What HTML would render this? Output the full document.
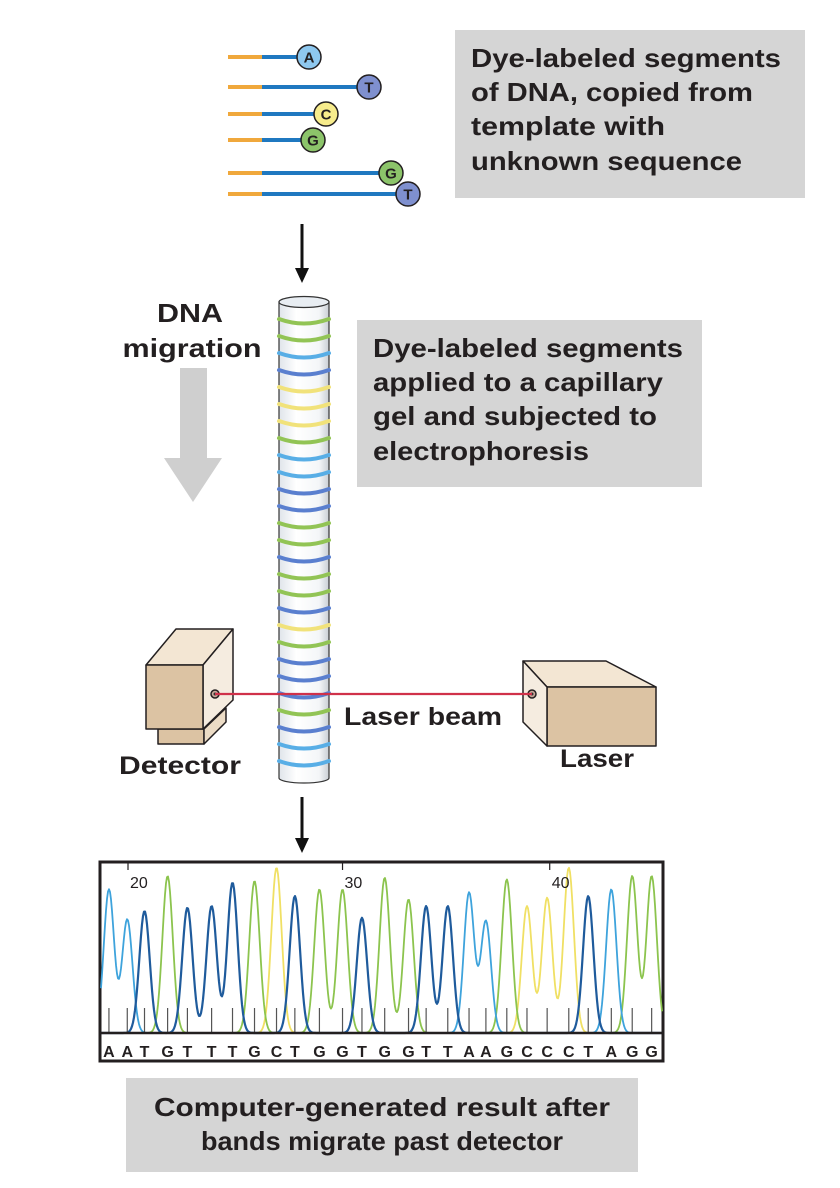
<!DOCTYPE html>
<html><head><meta charset="utf-8"><style>
html,body{margin:0;padding:0;background:#fff;}
svg{display:block;}
text{font-family:"Liberation Sans",sans-serif;font-weight:bold;fill:#231f20;}
</style></head><body>
<svg id="fig" width="840" height="1188" viewBox="0 0 840 1188">
<rect x="455" y="30" width="350" height="168" fill="#d5d5d5"/>
<g font-size="26">
<text x="471" y="67" textLength="310" lengthAdjust="spacingAndGlyphs">Dye-labeled segments</text>
<text x="471" y="101" textLength="282" lengthAdjust="spacingAndGlyphs">of DNA, copied from</text>
<text x="471" y="135" textLength="194" lengthAdjust="spacingAndGlyphs">template with</text>
<text x="471" y="170" textLength="271" lengthAdjust="spacingAndGlyphs">unknown sequence</text>
</g>
<rect x="357" y="320" width="345" height="167" fill="#d5d5d5"/>
<g font-size="26">
<text x="373" y="357" textLength="310" lengthAdjust="spacingAndGlyphs">Dye-labeled segments</text>
<text x="373" y="391" textLength="290" lengthAdjust="spacingAndGlyphs">applied to a capillary</text>
<text x="373" y="425" textLength="284" lengthAdjust="spacingAndGlyphs">gel and subjected to</text>
<text x="373" y="460" textLength="216" lengthAdjust="spacingAndGlyphs">electrophoresis</text>
</g>
<rect x="126" y="1078" width="512" height="94" fill="#d5d5d5"/>
<g font-size="26" text-anchor="middle">
<text x="382" y="1116" textLength="456" lengthAdjust="spacingAndGlyphs">Computer-generated result after</text>
<text x="382" y="1150" textLength="362" lengthAdjust="spacingAndGlyphs">bands migrate past detector</text>
</g>
<g font-size="26" text-anchor="middle">
<text x="190" y="322" textLength="66" lengthAdjust="spacingAndGlyphs">DNA</text>
<text x="192" y="357" textLength="139" lengthAdjust="spacingAndGlyphs">migration</text>
</g>
<polygon fill="#cfcfcf" points="180,368 207,368 207,458 222,458 193,502 164,458 180,458"/>
<g><line x1="302" y1="224" x2="302" y2="272" stroke="#111" stroke-width="3"/><polygon points="295,268 309,268 302,283" fill="#111"/></g>
<g><line x1="302" y1="797" x2="302" y2="842" stroke="#111" stroke-width="3"/><polygon points="295,838 309,838 302,853" fill="#111"/></g>
<g id="strands"></g>
<g stroke="#231f20" stroke-width="1.5" stroke-linejoin="round">
<polygon points="158,729 204,729 204,744 158,744" fill="#dcc3a3"/>
<polygon points="204,729 226,708 226,722 204,744" fill="#ecdcc6"/>
<polygon points="146,665 176,629 233,629 203,665" fill="#f3e6d3"/>
<polygon points="203,665 233,629 233,700 203,729" fill="#f5ece0"/>
<polygon points="146,665 203,665 203,729 146,729" fill="#dcc3a3"/>
<circle cx="215" cy="694" r="4" fill="#c9a99a"/><circle cx="215" cy="694" r="1.5" fill="#333" stroke="none"/>
</g>
<g stroke="#231f20" stroke-width="1.5" stroke-linejoin="round">
<polygon points="523,661 606,661 656,687 547,687" fill="#f3e6d3"/>
<polygon points="547,687 656,687 656,746 547,746" fill="#dcc3a3"/>
<polygon points="523,661 547,687 547,746 523,722" fill="#f5ece0"/>
<circle cx="532" cy="694" r="4" fill="#c9a99a"/><circle cx="532" cy="694" r="1.5" fill="#333" stroke="none"/>
</g>
<g id="cap">
<defs><linearGradient id="cg" x1="0" x2="1"><stop offset="0" stop-color="#dfe4ea"/><stop offset="0.35" stop-color="#ffffff"/><stop offset="0.8" stop-color="#f4f6f8"/><stop offset="1" stop-color="#c9ced4"/></linearGradient></defs>
<path d="M279,302 L279,778 A25,5 0 0 0 329,778 L329,302 Z" fill="url(#cg)" stroke="#333" stroke-width="1.2"/>
</g>
<g id="bands"></g>
<ellipse cx="304" cy="302" rx="25" ry="5.5" fill="#e8edf2" stroke="#333" stroke-width="1.2"/>
<line x1="215" y1="694" x2="532" y2="694" stroke="#d0314a" stroke-width="2.2"/>
<text x="423" y="725" font-size="25" text-anchor="middle" textLength="158" lengthAdjust="spacingAndGlyphs">Laser beam</text>
<text x="180" y="774" font-size="25" text-anchor="middle" textLength="122" lengthAdjust="spacingAndGlyphs">Detector</text>
<text x="597" y="767" font-size="25" text-anchor="middle" textLength="74" lengthAdjust="spacingAndGlyphs">Laser</text>
<rect x="100" y="862" width="563" height="199" fill="#fff" stroke="#231f20" stroke-width="3"/>
<g id="chrom"></g>
</svg>
<script>
const NS='http://www.w3.org/2000/svg';
function mk(tag,attrs,parent){const e=document.createElementNS(NS,tag);for(const k in attrs)e.setAttribute(k,attrs[k]);parent.appendChild(e);return e;}
const colors={A:'#3ea3dc',T:'#1f5b9c',G:'#8cc44e',C:'#f0e064'};
const circleFill={A:'#8ec8ef',T:'#7f90cf',G:'#8cc46a',C:'#f7ec8c'};

const segBases=['A','T','C','G','G','T'];
const segLengths=[47,107,64,51,129,146];
const segRowY=[57,87,114,140,173,194];
const strands=document.getElementById('strands');
for(let i=0;i<segBases.length;i++){
  const y=segRowY[i], x0=262, x1=x0+segLengths[i];
  const o=mk('line',{x1:228,y1:y,x2:262,y2:y,stroke:'#f0a83c','stroke-width':4},strands);
  
  
  const b=mk('line',{x1:262,y1:y,x2:x1,y2:y,stroke:'#1f78c0','stroke-width':4},strands);
  
  
  const c=mk('circle',{cx:x1,cy:y,r:12,fill:circleFill[segBases[i]],stroke:'#231f20','stroke-width':1.5},strands);
  
  
  const t=mk('text',{x:x1,y:y+5.5,'font-size':15,'text-anchor':'middle'},strands);
  t.textContent=segBases[i];
  
  
}

const bandBases=['G','G','A','T','C','C','C','G','A','A','T','T','G','G','T','G','G','T','C','G','T','T','T','G','T','A','A'];
const bandColors={A:'#58aee6',T:'#5a7fcf',G:'#92c455',C:'#f1e27a'};
const bands=document.getElementById('bands');
for(let i=0;i<bandBases.length;i++){
  const y=322+i*17;
  const p=mk('path',{d:`M279,${y-3} Q304,${y+6} 329,${y-3}`,fill:'none',stroke:bandColors[bandBases[i]],'stroke-width':4,'stroke-linecap':'round'},bands);
  
  
}

const sequence=['A','A','T','G','T','T','T','G','C','T','G','G','T','G','G','T','T','A','A','G','C','C','C','T','A','G','G'];
const peakScan=[38,88,135,198,252,318,375,435,495,545,612,675,728,790,855,903,962,1020,1066,1123,1178,1233,1292,1345,1408,1465,1518];
const peakHeight=[0.86,0.68,0.73,0.94,0.75,0.76,0.90,0.91,0.99,0.82,0.86,0.86,0.69,0.93,0.80,0.76,0.76,0.84,0.67,0.92,0.76,0.81,0.99,0.82,0.86,0.94,0.94];
const tickLabels=['20','30','40'];
const tickScan=[90,675,1240];
const baseline=1033, plotTop=866;
const xs=s=>95+s/2.727;
const ys=v=>baseline-v*(baseline-plotTop);
const chrom=document.getElementById('chrom');
['C','G','A','T'].forEach(b=>{
  let d='';
  for(let px=101;px<=662;px+=1){
    let v=0;
    for(let i=0;i<sequence.length;i++){
      if(sequence[i]!==b)continue;
      const dx=(px-xs(peakScan[i]))/5.2;
      v+=peakHeight[i]*Math.exp(-dx*dx/2);
    }
    v=Math.min(v,1.02);
    d+=(d?'L':'M')+px+','+ys(v).toFixed(1);
  }
  const p=mk('path',{d:d,fill:'none',stroke:colors[b],'stroke-width':b==='T'?2.2:1.8,'stroke-linejoin':'round'},chrom);
  
  
});
for(let i=0;i<sequence.length;i++){
  const x=xs(peakScan[i]);
  const tk=mk('line',{x1:x,y1:1008,x2:x,y2:baseline,stroke:'#555','stroke-width':1.2},chrom);
  
  
  const t=mk('text',{x:x,y:1057,'font-size':16,'text-anchor':'middle'},chrom);
  t.textContent=sequence[i];
  
  
}
const bl=mk('line',{x1:100,y1:baseline,x2:663,y2:baseline,stroke:'#231f20','stroke-width':2.5},chrom);


for(let i=0;i<tickLabels.length;i++){
  const x=xs(tickScan[i]);
  const l=mk('line',{x1:x,y1:863,x2:x,y2:870,stroke:'#231f20','stroke-width':1.2},chrom);
  
  
  const t=mk('text',{x:x+2,y:888,'font-size':16,style:'font-weight:normal'},chrom);
  t.textContent=tickLabels[i];
  
  
}
</script>
</body></html>
